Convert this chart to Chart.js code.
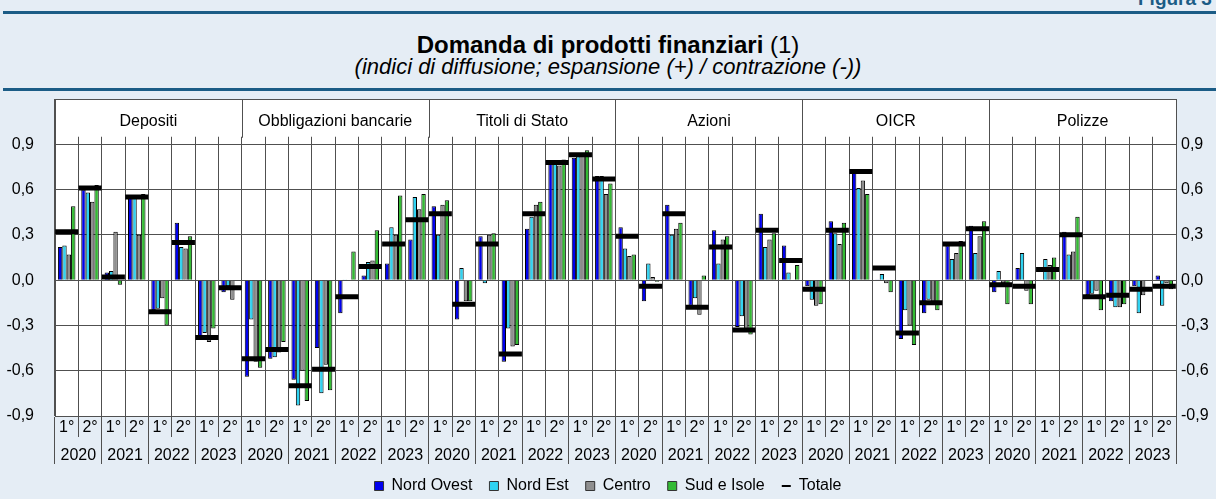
<!DOCTYPE html>
<html>
<head>
<meta charset="utf-8">
<script src="https://cdn.jsdelivr.net/npm/chart.js@4.4.1/dist/chart.umd.min.js"></script>
<style>
body{margin:0;background:#e5edf5;width:1216px;height:499px;overflow:hidden;position:relative;font-family:"Liberation Sans",Arial,sans-serif}
#fig{position:absolute;left:1138px;top:-12px;color:#1b5c86;font-weight:bold;font-size:19px;white-space:nowrap}
.rule{position:absolute;left:3px;right:0;height:3px;background:#1b5c86}
#title{position:absolute;top:31px;width:100%;text-align:center;font-size:24px;line-height:27px}
#sub{position:absolute;top:54px;width:100%;text-align:center;font-size:22px;line-height:25px;font-style:italic}
#wrap{position:absolute;left:0;top:92px;width:1216px;height:412px}
</style>
</head>
<body>
<div id="fig">Figura 3</div>
<div class="rule" style="top:11px"></div>
<div id="title"><b>Domanda di prodotti finanziari</b> (1)</div>
<div id="sub">(indici di diffusione; espansione (+) / contrazione (-))</div>
<div class="rule" style="top:88px"></div>
<div id="wrap"><canvas id="c"></canvas></div>
<script>
// pannelli, anni e semestri
const panels=['Depositi','Obbligazioni bancarie','Titoli di Stato','Azioni','OICR','Polizze'];
const years=['2020','2021','2022','2023'];
const halves=['1°','2°'];

// valori (8 semestri per pannello)
const nordOvest=[
0.22,0.60,0.05,0.56,-0.20,0.38,-0.37,-0.08,
-0.64,-0.52,-0.66,-0.45,-0.22,0.03,0.11,0.27,
0.49,-0.26,0.29,-0.54,0.34,0.78,0.81,0.69,
0.35,-0.14,0.50,-0.17,0.33,-0.31,0.44,0.23,
-0.04,0.39,0.72,0.005,-0.39,-0.22,0.23,0.36,
-0.08,0.08,0.00,0.32,-0.10,-0.14,-0.04,0.03];
const nordEst=[
0.23,0.58,0.06,0.56,-0.19,0.22,-0.35,-0.04,
-0.26,-0.51,-0.83,-0.75,0.005,0.12,0.35,0.55,
0.30,0.08,-0.02,-0.32,0.42,0.78,0.82,0.69,
0.21,0.11,0.30,-0.12,0.11,-0.24,0.22,0.05,
-0.13,0.31,0.61,0.04,-0.20,-0.13,0.14,0.18,
0.06,0.18,0.14,0.17,-0.09,-0.18,-0.22,-0.17];
const centro=[
0.17,0.52,0.32,0.30,-0.12,0.21,-0.41,-0.13,
-0.54,-0.48,-0.60,-0.56,0.00,0.13,0.30,0.47,
0.50,-0.14,0.30,-0.44,0.50,0.76,0.83,0.57,
0.16,0.02,0.34,-0.23,0.27,-0.34,0.27,0.00,
-0.17,0.24,0.66,-0.02,-0.30,-0.15,0.18,0.29,
-0.02,-0.07,0.10,0.19,-0.07,-0.18,-0.10,-0.02];
const sudIsole=[
0.49,0.63,-0.03,0.57,-0.30,0.29,-0.32,0.00,
-0.58,-0.41,-0.80,-0.73,0.19,0.33,0.56,0.57,
0.53,-0.14,0.31,-0.43,0.52,0.80,0.86,0.64,
0.17,-0.01,0.38,0.03,0.29,-0.36,0.31,0.10,
-0.16,0.38,0.57,-0.08,-0.43,-0.20,0.26,0.39,
-0.16,-0.16,0.15,0.42,-0.20,-0.16,0.00,-0.06];
const totale=[
0.32,0.61,0.02,0.55,-0.21,0.25,-0.38,-0.05,
-0.52,-0.46,-0.70,-0.59,-0.11,0.09,0.24,0.40,
0.44,-0.16,0.24,-0.49,0.44,0.78,0.83,0.67,
0.29,-0.04,0.44,-0.18,0.22,-0.33,0.33,0.13,
-0.06,0.33,0.72,0.08,-0.35,-0.15,0.24,0.34,
-0.03,-0.04,0.07,0.30,-0.11,-0.10,-0.06,-0.04];

let halfLabels=[],yearLabels=[];
panels.forEach(()=>years.forEach(y=>{yearLabels.push(y);halves.forEach(h=>halfLabels.push(h));}));

const GRID='#505050';
Chart.defaults.font.family='"Liberation Sans", Arial, sans-serif';
Chart.defaults.color='#000';

const panelPlugin={
id:'panels',
beforeDraw(c){
let a=c.chartArea,ctx=c.ctx;
ctx.save();ctx.fillStyle='#fff';
ctx.fillRect(a.left,a.top,a.right-a.left,a.bottom-a.top);
ctx.restore();
},
beforeDatasetsDraw(c){
let a=c.chartArea,ctx=c.ctx,x=c.scales.x,y=c.scales.y;
let w=x.getPixelForValue(1)-x.getPixelForValue(0);
let yb=y.getPixelForValue(0.95);
let yt=(a.top+y.getPixelForValue(0.9))/2;
ctx.save();
ctx.fillStyle='#fff';
ctx.fillRect(a.left+1,a.top+1,a.right-a.left-2,yb-a.top-1);
ctx.strokeStyle=GRID;ctx.lineWidth=1;
ctx.font='16px "Liberation Sans", Arial, sans-serif';
ctx.fillStyle='#000';ctx.textAlign='center';ctx.textBaseline='middle';
panels.forEach((p,i)=>{
let l=x.getPixelForValue(i*8)-w/2;
let r=l+8*w;
let px=Math.round(l)+0.5;
ctx.beginPath();ctx.moveTo(px,a.top);ctx.lineTo(px,yb+1);ctx.stroke();
ctx.fillText(p,(l+r)/2,yt);
});
ctx.restore();
}
};

function barSet(label,data,color){
return {label,data,backgroundColor:color,borderColor:'#000',borderWidth:1,
categoryPercentage:0.75,barPercentage:1,pointStyle:'rect',order:2};
}

const fmt=v=>v>1.0?'':(Math.round(v*10)/10).toFixed(1).replace('.',',');
function fitY(w){return s=>{s.width=w;s.paddingTop=0;s.paddingBottom=0;};}

new Chart(document.getElementById('c'),{
type:'bar',
data:{
labels:halfLabels,
datasets:[
barSet('Nord Ovest',nordOvest,'#0000ee'),
barSet('Nord Est',nordEst,'#2fd3f2'),
barSet('Centro',centro,'#8f8f8f'),
barSet('Sud e Isole',sudIsole,'#34bb34'),
{type:'line',label:'Totale',data:totale,showLine:false,pointStyle:'line',
pointRadius:11.5,pointHoverRadius:11.5,pointBorderWidth:5,borderColor:'#000',
backgroundColor:'#000',order:1}
]
},
options:{
animation:false,responsive:true,maintainAspectRatio:false,
layout:{autoPadding:false,padding:{top:7,left:0,right:0,bottom:0}},
plugins:{
tooltip:{enabled:false},
legend:{
position:'bottom',
labels:{
usePointStyle:true,pointStyleWidth:9,boxHeight:9,padding:17,
font:{size:16},color:'#000',
sort:(a,b)=>a.datasetIndex-b.datasetIndex,
generateLabels(chart){
let items=Chart.defaults.plugins.legend.labels.generateLabels(chart);
items.forEach(it=>{
if(it.text==='Totale'){it.lineWidth=2;it.pointStyle='line';it.fillStyle='#000';}
else{it.lineWidth=1;it.strokeStyle='#333';it.pointStyle='rect';}
});
return items;
}
}
}
},
scales:{
x:{
offset:true,
grid:{offset:true,color:GRID,tickLength:21},
border:{color:GRID},
ticks:{font:{size:16},padding:-19,maxRotation:0,autoSkip:false},
afterFit(s){s.height=21;}
},
x2:{
type:'category',labels:yearLabels,position:'bottom',offset:true,
grid:{offset:true,drawOnChartArea:false,color:GRID,tickLength:27},
border:{display:false},
ticks:{font:{size:16},padding:-18,maxRotation:0,autoSkip:false},
afterFit(s){s.height=24;}
},
y:{
min:-0.9,max:1.2,
grid:{color:GRID,drawTicks:false},
border:{color:GRID},
ticks:{stepSize:0.3,font:{size:16},padding:21,callback:fmt},
afterFit:fitY(55)
},
y2:{
position:'right',min:-0.9,max:1.2,
grid:{drawOnChartArea:false,drawTicks:false},
border:{color:GRID},
ticks:{stepSize:0.3,font:{size:16},padding:5,callback:fmt},
afterFit:fitY(40)
}
}
},
plugins:[panelPlugin]
});
</script>
</body>
</html>
